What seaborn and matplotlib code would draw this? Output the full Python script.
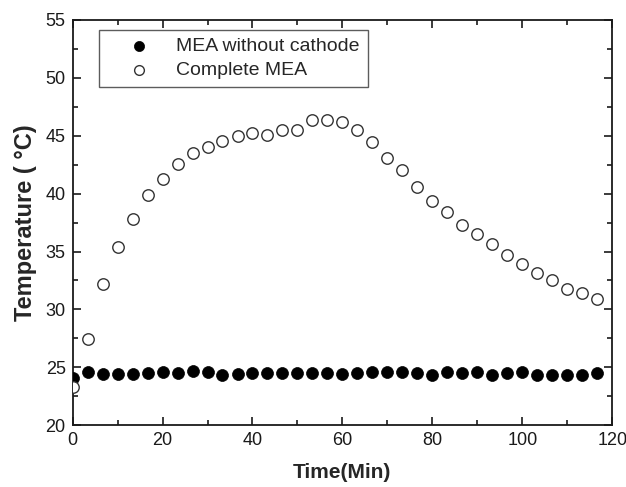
import numpy as np
import pandas as pd
import matplotlib
matplotlib.use("Agg")
import matplotlib.pyplot as plt
import seaborn as sns
from matplotlib.ticker import MultipleLocator

# time in minutes (one reading every 3 1/3 min)
time_min = [0, 3.33, 6.67, 10, 13.33, 16.67, 20, 23.33, 26.67, 30, 33.33, 36.67,
            40, 43.33, 46.67, 50, 53.33, 56.67, 60, 63.33, 66.67, 70, 73.33, 76.67,
            80, 83.33, 86.67, 90, 93.33, 96.67, 100, 103.33, 106.67, 110, 113.33, 116.67]

# MEA without cathode (filled dots)
temp_no_cathode = [24.05, 24.6, 24.4, 24.4, 24.4, 24.5, 24.6, 24.5, 24.65, 24.6, 24.35, 24.4,
                   24.5, 24.5, 24.5, 24.5, 24.5, 24.5, 24.4, 24.5, 24.6, 24.6, 24.6, 24.5,
                   24.35, 24.6, 24.5, 24.6, 24.35, 24.5, 24.6, 24.3, 24.35, 24.3, 24.3, 24.5]

# complete MEA (open circles)
temp_complete = [23.3, 27.4, 32.15, 35.4, 37.8, 39.9, 41.3, 42.6, 43.5, 44.0, 44.55, 44.95,
                 45.2, 45.05, 45.5, 45.5, 46.4, 46.4, 46.2, 45.5, 44.5, 43.1, 42.0, 40.6,
                 39.4, 38.4, 37.3, 36.5, 35.65, 34.7, 33.95, 33.15, 32.5, 31.8, 31.4, 30.9]

df = pd.DataFrame({"time": time_min, "no_cathode": temp_no_cathode, "complete": temp_complete})

sns.set_style("ticks")
plt.rcParams['font.family'] = ['Liberation Sans', 'DejaVu Sans']

fig = plt.figure(figsize=(6.26, 4.87), dpi=100)
ax = fig.add_axes([0.116, 0.127, 0.862, 0.832])

sns.scatterplot(data=df, x="time", y="no_cathode", ax=ax, color="black", s=74,
                edgecolor="black", linewidth=0.5, label="MEA without cathode", zorder=3)
sns.scatterplot(data=df, x="time", y="complete", ax=ax, facecolor="white", s=68,
                edgecolor="#333333", linewidth=1.0, label="Complete MEA", zorder=4)

ax.set_xlim(0, 120)
ax.set_ylim(20, 55)
ax.xaxis.set_major_locator(MultipleLocator(20))
ax.xaxis.set_minor_locator(MultipleLocator(10))
ax.yaxis.set_major_locator(MultipleLocator(5))
ax.yaxis.set_minor_locator(MultipleLocator(2.5))
ax.tick_params(which="both", direction="in", top=True, right=True, width=1.2, colors="#1a1a1a",
               labelsize=13, labelcolor="#1a1a1a")
ax.tick_params(which="major", length=6, pad=5)
ax.tick_params(which="minor", length=3.5)
for sp in ax.spines.values():
    sp.set_linewidth(1.3)
    sp.set_color("#1a1a1a")

ax.set_xlabel("Time(Min)", fontsize=15, fontweight="bold", labelpad=10)
ax.set_ylabel("Temperature ( °C)", fontsize=17, fontweight="bold", labelpad=6)

leg = ax.legend(loc="upper left", bbox_to_anchor=(0.048, 0.975), borderaxespad=0,
                fontsize=14, frameon=True, fancybox=False, edgecolor="#333333",
                handletextpad=0.2, borderpad=0.4, labelspacing=0.3, handlelength=3.4,
                markerscale=0.85)
leg.get_frame().set_linewidth(1.0)

fig.savefig("out.png", dpi=100)
